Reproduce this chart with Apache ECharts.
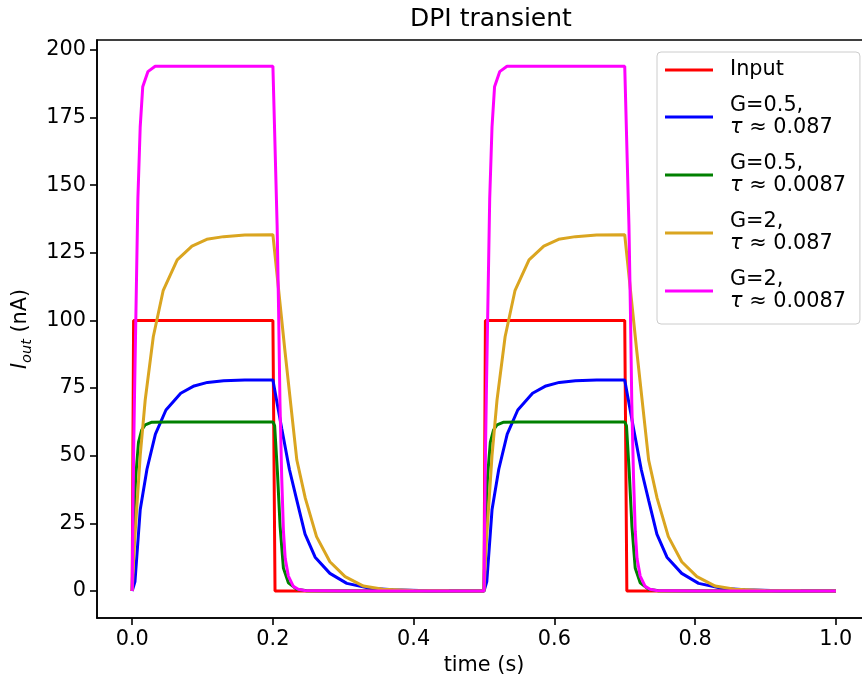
<!DOCTYPE html>
<html>
<head>
<meta charset="utf-8">
<script src="https://cdn.jsdelivr.net/npm/echarts@6/dist/echarts.min.js"></script>
<style>
    html, body { margin: 0; padding: 0; background: #fff; overflow: hidden; }
    #main { width: 871px; height: 681px; }
</style>
</head>
<body>
<div id="main"></div>
<script>
var element = document.querySelector('#main')
var myChart = echarts.init(element)

const font = 'DejaVu Sans'

// x / y tick positions
const xTicks = [0, 0.2, 0.4, 0.6, 0.8, 1.0]
const yTicks = [0, 25, 50, 75, 100, 125, 150, 175, 200]

// Input pulse
const inputT = [0, 0.002, 0.2, 0.203, 0.5, 0.502, 0.7, 0.703, 1.0]
const inputV = [0, 100, 100, 0, 0, 100, 100, 0, 0]

// G=0.5, tau ~ 0.087
const blueT = [0, 0.004, 0.0114, 0.021, 0.033, 0.048, 0.069, 0.088, 0.107, 0.13, 0.16, 0.2,
    0.2017, 0.2126, 0.2234, 0.234, 0.2457, 0.26, 0.281, 0.305, 0.338, 0.371, 0.42, 0.5,
    0.504, 0.5114, 0.521, 0.533, 0.548, 0.569, 0.588, 0.607, 0.63, 0.66, 0.7,
    0.7017, 0.7126, 0.7234, 0.734, 0.7457, 0.76, 0.781, 0.805, 0.838, 0.871, 0.92, 1.0]
const blueV = [0, 3.5, 30, 45, 58, 66.9, 73.1, 75.8, 77.1, 77.7, 78, 78,
    78, 60, 45, 33.5, 21, 12.5, 6.5, 2.8, 1.0, 0.4, 0.1, 0,
    3.5, 30, 45, 58, 66.9, 73.1, 75.8, 77.1, 77.7, 78, 78,
    78, 60, 45, 33.5, 21, 12.5, 6.5, 2.8, 1.0, 0.4, 0.1, 0]

// G=0.5, tau ~ 0.0087
const greenT = [0, 0.002, 0.005, 0.009, 0.0135, 0.0185, 0.028, 0.05, 0.2,
    0.2025, 0.2064, 0.2102, 0.2149, 0.222, 0.234, 0.248, 0.3, 0.5,
    0.502, 0.505, 0.509, 0.5135, 0.5185, 0.528, 0.55, 0.7,
    0.7025, 0.7064, 0.7102, 0.7149, 0.722, 0.734, 0.748, 0.8, 1.0]
const greenV = [0, 25, 42, 55, 59.5, 61.4, 62.4, 62.5, 62.5,
    61, 44, 24, 8.5, 3, 0.6, 0.1, 0, 0,
    25, 42, 55, 59.5, 61.4, 62.4, 62.5, 62.5,
    61, 44, 24, 8.5, 3, 0.6, 0.1, 0, 0]

// G=2, tau ~ 0.087
const orangeT = [0, 0.0033, 0.0114, 0.0185, 0.03, 0.044, 0.064, 0.085, 0.106, 0.13, 0.16, 0.2,
    0.217, 0.234, 0.246, 0.262, 0.281, 0.3026, 0.3286, 0.3565, 0.4, 0.45, 0.5,
    0.5033, 0.5114, 0.5185, 0.53, 0.544, 0.564, 0.585, 0.606, 0.63, 0.66, 0.7,
    0.717, 0.734, 0.746, 0.762, 0.781, 0.8026, 0.8286, 0.8565, 0.9, 0.95, 1.0]
const orangeV = [0, 18, 50, 70.6, 94, 111, 122.4, 127.5, 130, 131, 131.6, 131.7,
    89, 48.4, 34.3, 20.1, 10.8, 5.3, 1.8, 0.6, 0.15, 0.03, 0,
    18, 50, 70.6, 94, 111, 122.4, 127.5, 130, 131, 131.6, 131.7,
    89, 48.4, 34.3, 20.1, 10.8, 5.3, 1.8, 0.6, 0.15, 0.03, 0]

// G=2, tau ~ 0.0087
const magentaT = [0, 0.001, 0.002, 0.0033, 0.0081, 0.0114, 0.015, 0.0223, 0.0327, 0.1, 0.2,
    0.2027, 0.206, 0.208, 0.21, 0.2125, 0.215, 0.2175, 0.222, 0.229, 0.236, 0.245, 0.3, 0.5,
    0.501, 0.502, 0.5033, 0.5081, 0.5114, 0.515, 0.5223, 0.5327, 0.6, 0.7,
    0.7027, 0.706, 0.708, 0.71, 0.7125, 0.715, 0.7175, 0.722, 0.729, 0.736, 0.745, 0.8, 1.0]
const magentaV = [0, 28, 50, 72, 145, 171.6, 186.4, 192, 194, 194, 194,
    194, 135, 105, 70, 42, 22, 12, 5.5, 1.7, 0.6, 0.15, 0, 0,
    28, 50, 72, 145, 171.6, 186.4, 192, 194, 194, 194,
    194, 135, 105, 70, 42, 22, 12, 5.5, 1.7, 0.6, 0.15, 0, 0]

const names = ['Input', 'G=0.5,\nτ ≈ 0.087', 'G=0.5,\nτ ≈ 0.0087', 'G=2,\nτ ≈ 0.087', 'G=2,\nτ ≈ 0.0087']
const colors = ['#ff0000', '#0000ff', '#008000', '#daa520', '#ff00ff']

const zip = (ts, vs) => ts.map((t, i) => [t, vs[i]])

const lines = [
    zip(inputT, inputV),
    zip(blueT, blueV),
    zip(greenT, greenV),
    zip(orangeT, orangeV),
    zip(magentaT, magentaV),
]

const series = lines.map((d, i) => {
    return {
        name: names[i],
        type: 'line',
        data: d,
        symbol: 'none',
        color: colors[i],
        lineStyle: {width: 3, color: colors[i]},
        z: 2 + i,
    }
})

let option = {
    animation: false,
    backgroundColor: '#fff',
    textStyle: {fontFamily: font},
    title: {
        text: 'DPI transient',
        left: 410,
        top: 7,
        padding: 0,
        textStyle: {fontFamily: font, fontSize: 25, fontWeight: 'normal', color: '#000'},
    },
    legend: {
        data: names,
        orient: 'vertical',
        left: 657,
        top: 52,
        padding: [7, 14, 11, 8],
        itemGap: 14,
        itemWidth: 48,
        itemHeight: 3,
        icon: 'rect',
        itemStyle: {borderWidth: 0},
        backgroundColor: 'rgba(255,255,255,0.8)',
        borderColor: '#cccccc',
        borderWidth: 1,
        borderRadius: 4,
        formatter: (name) => name.replace('τ', '{it|τ}'),
        textStyle: {
            fontFamily: font,
            fontSize: 20.8,
            lineHeight: 22,
            color: '#000',
            padding: [0, 0, 0, 12],
            rich: {
                it: {fontFamily: font, fontSize: 20.8, lineHeight: 22, fontStyle: 'italic', color: '#000'},
            },
        },
    },
    grid: {
        left: 97,
        top: 40,
        right: 0,
        bottom: 63,
        show: true,
        borderColor: '#000',
        borderWidth: 1.6,
        backgroundColor: 'transparent',
    },
    xAxis: {
        type: 'value',
        min: -0.05,
        max: 1.05,
        name: 'time (s)',
        nameLocation: 'middle',
        nameGap: 36,
        nameTextStyle: {fontFamily: font, fontSize: 20.8, color: '#000'},
        axisLine: {onZero: false, lineStyle: {color: '#000', width: 1.6}},
        axisTick: {show: true, length: 7, inside: false, customValues: xTicks, lineStyle: {color: '#000', width: 1.6}},
        axisLabel: {
            customValues: xTicks,
            margin: 11,
            fontFamily: font,
            fontSize: 20.8,
            color: '#000',
            formatter: (v) => v.toFixed(1),
        },
        splitLine: {show: false},
    },
    yAxis: {
        type: 'value',
        min: -10,
        max: 203.7,
        name: '{i|I}{s|out}{n| (nA)}',
        nameLocation: 'middle',
        nameGap: 62,
        nameTextStyle: {
            fontFamily: font,
            fontSize: 20.8,
            color: '#000',
            rich: {
                i: {fontFamily: font, fontSize: 20.8, fontStyle: 'italic', lineHeight: 28, color: '#000'},
                s: {fontFamily: font, fontSize: 14.5, fontStyle: 'italic', lineHeight: 28, verticalAlign: 'bottom', color: '#000'},
                n: {fontFamily: font, fontSize: 20.8, lineHeight: 28, color: '#000'},
            },
        },
        axisLine: {onZero: false, lineStyle: {color: '#000', width: 1.6}},
        axisTick: {show: true, length: 7, inside: false, customValues: yTicks, lineStyle: {color: '#000', width: 1.6}},
        axisLabel: {
            customValues: yTicks,
            margin: 11,
            fontFamily: font,
            fontSize: 20.8,
            color: '#000',
        },
        splitLine: {show: false},
    },
    series: series,
}

myChart.setOption(option)
</script>
</body>
</html>
